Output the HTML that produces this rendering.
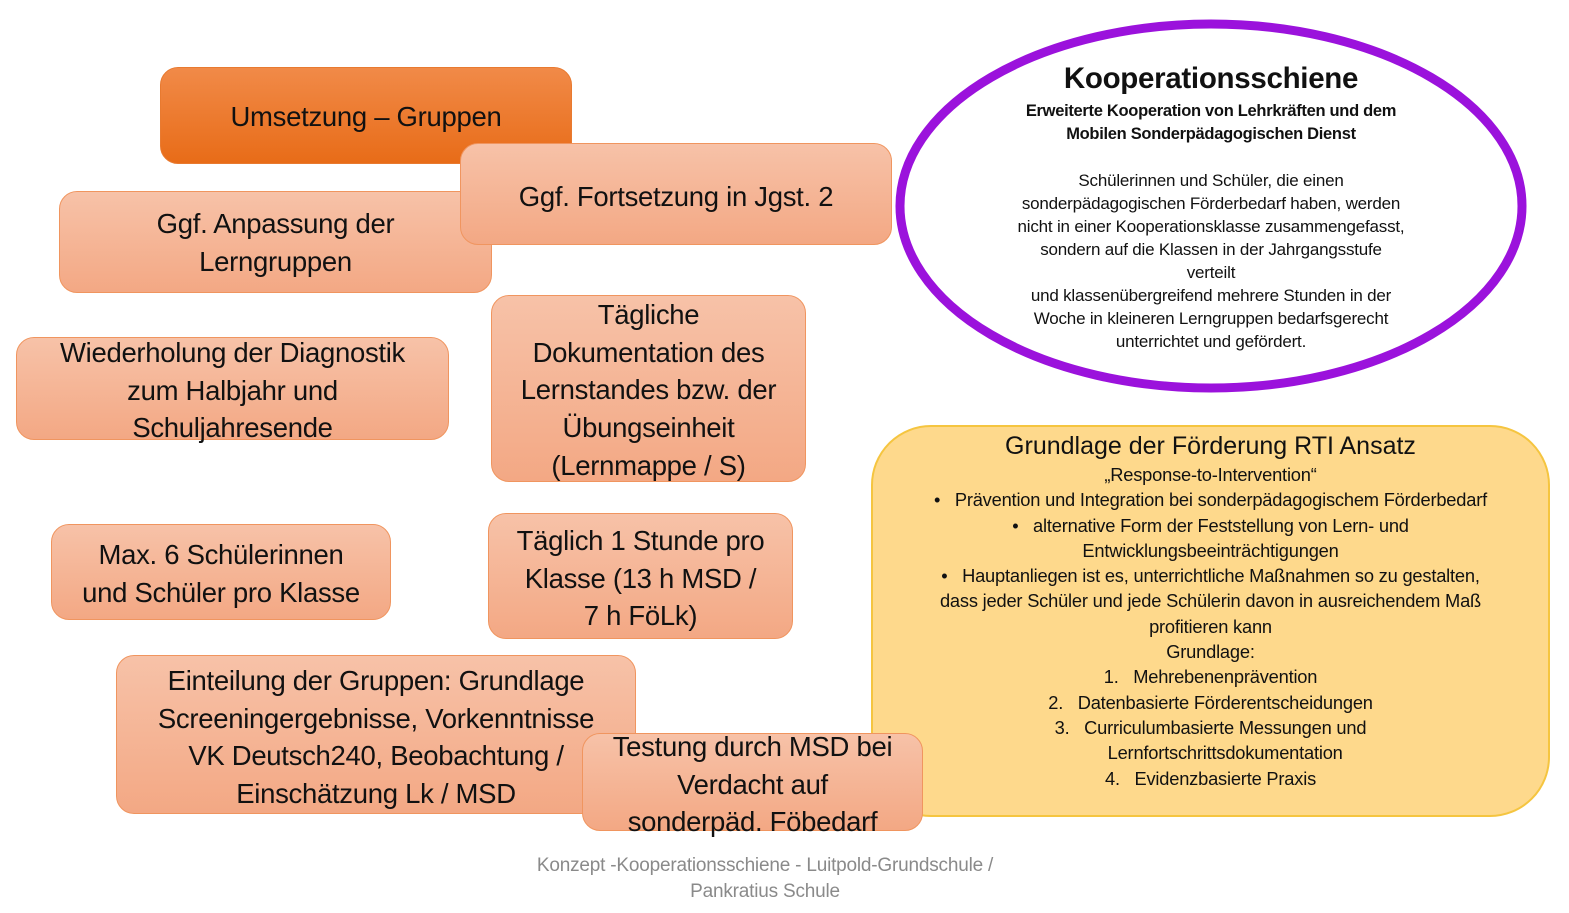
<!DOCTYPE html>
<html><head><meta charset="utf-8"><style>
html,body{margin:0;padding:0;background:#fff;}
body{width:1569px;height:913px;position:relative;overflow:hidden;font-family:"Liberation Sans","DejaVu Sans",sans-serif;color:#111;}
.b{position:absolute;border-radius:18px;box-sizing:border-box;border:1.5px solid #f0955f;background:linear-gradient(#f7c2a8,#f3a884);}
.t{position:absolute;left:-20px;right:-20px;text-align:center;white-space:nowrap;font-size:27.5px;line-height:37.7px;letter-spacing:-0.3px;}
.dark{background:linear-gradient(#f18a48,#e86c18);border-color:#e87a30;}
.el{position:absolute;text-align:center;white-space:nowrap;}
</style></head><body>

<div style="position:absolute;left:871px;top:425px;width:679px;height:392px;box-sizing:border-box;border:2px solid #f5c540;border-radius:60px;background:#fed98c;"></div>
<div class="el" style="left:871px;width:679px;top:431px;font-size:25px;line-height:30px;">Grundlage der Förderung RTI Ansatz</div>
<div class="el" style="left:871px;width:679px;top:462px;font-size:18.3px;line-height:25.3px;letter-spacing:-0.2px;">„Response-to-Intervention“<br>•&nbsp;&nbsp;&nbsp;Prävention und Integration bei sonderpädagogischem Förderbedarf<br>•&nbsp;&nbsp;&nbsp;alternative Form der Feststellung von Lern- und<br>Entwicklungsbeeinträchtigungen<br>•&nbsp;&nbsp;&nbsp;Hauptanliegen ist es, unterrichtliche Maßnahmen so zu gestalten,<br>dass jeder Schüler und jede Schülerin davon in ausreichendem Maß<br>profitieren kann<br>Grundlage:<br>1.&nbsp;&nbsp;&nbsp;Mehrebenenprävention<br>2.&nbsp;&nbsp;&nbsp;Datenbasierte Förderentscheidungen<br>3.&nbsp;&nbsp;&nbsp;Curriculumbasierte Messungen und<br>&nbsp;&nbsp;&nbsp;&nbsp;&nbsp;&nbsp;Lernfortschrittsdokumentation<br>4.&nbsp;&nbsp;&nbsp;Evidenzbasierte Praxis</div>

<div class="b dark" style="left:160px;top:67px;width:412px;height:97px;"><div class="t" style="top:30px;">Umsetzung – Gruppen</div></div>

<div class="b" style="left:59px;top:191px;width:433px;height:102px;"><div class="t" style="top:13px;">Ggf. Anpassung der<br>Lerngruppen</div></div>

<div class="b" style="left:460px;top:143px;width:432px;height:102px;"><div class="t" style="top:34px;">Ggf. Fortsetzung in Jgst. 2</div></div>

<div class="b" style="left:16px;top:337px;width:433px;height:103px;"><div class="t" style="top:-4px;">Wiederholung der Diagnostik<br>zum Halbjahr und<br>Schuljahresende</div></div>

<div class="b" style="left:491px;top:295px;width:315px;height:187px;"><div class="t" style="top:0px;">Tägliche<br>Dokumentation des<br>Lernstandes bzw. der<br>Übungseinheit<br>(Lernmappe / S)</div></div>

<div class="b" style="left:51px;top:524px;width:340px;height:96px;"><div class="t" style="top:11px;">Max. 6 Schülerinnen<br>und Schüler pro Klasse</div></div>

<div class="b" style="left:488px;top:513px;width:305px;height:126px;"><div class="t" style="top:8px;">Täglich 1 Stunde pro<br>Klasse (13 h MSD /<br>7 h FöLk)</div></div>

<div class="b" style="left:116px;top:655px;width:520px;height:159px;"><div class="t" style="top:6px;">Einteilung der Gruppen: Grundlage<br>Screeningergebnisse, Vorkenntnisse<br>VK Deutsch240, Beobachtung /<br>Einschätzung Lk / MSD</div></div>

<div class="b" style="left:582px;top:733px;width:341px;height:98px;"><div class="t" style="top:-6px;">Testung durch MSD bei<br>Verdacht auf<br>sonderpäd. Föbedarf</div></div>

<svg style="position:absolute;left:0;top:0" width="1569" height="913">
<ellipse cx="1211" cy="206" rx="311" ry="182" fill="#fff" stroke="#9b12dc" stroke-width="9"/>
</svg>
<div class="el" style="left:900px;width:622px;top:61px;font-size:29.5px;font-weight:bold;line-height:36px;letter-spacing:-0.3px;">Kooperationsschiene</div>
<div class="el" style="left:900px;width:622px;top:100px;font-size:16.5px;font-weight:bold;line-height:23px;letter-spacing:-0.3px;">Erweiterte Kooperation von Lehrkräften und dem<br>Mobilen Sonderpädagogischen Dienst</div>
<div class="el" style="left:900px;width:622px;top:169px;font-size:17px;line-height:23px;letter-spacing:-0.2px;">Schülerinnen und Schüler, die einen<br>sonderpädagogischen Förderbedarf haben, werden<br>nicht in einer Kooperationsklasse zusammengefasst,<br>sondern auf die Klassen in der Jahrgangsstufe<br>verteilt<br>und klassenübergreifend mehrere Stunden in der<br>Woche in kleineren Lerngruppen bedarfsgerecht<br>unterrichtet und gefördert.</div>

<div class="el" style="left:415px;width:700px;top:853px;font-size:19px;line-height:26px;color:#8a8a8a;letter-spacing:-0.2px;">Konzept -Kooperationsschiene - Luitpold-Grundschule /<br>Pankratius Schule</div>
</body></html>
